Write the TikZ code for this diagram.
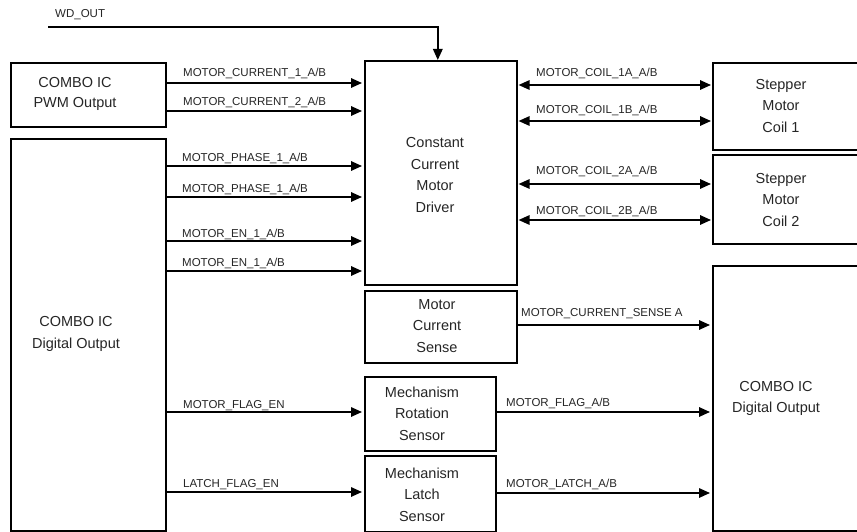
\documentclass[tikz,border=0pt]{standalone}
\usepackage{fontspec}
\setmainfont{Liberation Sans}
\usetikzlibrary{arrows.meta}
\tikzset{
  blk/.style={draw=black, line width=1.6pt, rectangle, inner sep=0pt, anchor=north west},
  btxt/.style={align=center, inner sep=0pt, text=black!85, font=\fontsize{14.5}{21.5}\selectfont},
  lab/.style={anchor=base west, inner sep=0pt, text=black!85, font=\fontsize{11.5}{13}\selectfont},
  arr/.style={line width=1.6pt, -{Triangle[length=11pt,width=9.5pt]}, shorten >=2pt},
  biarr/.style={line width=1.6pt, {Triangle[length=11pt,width=9.5pt]}-{Triangle[length=11pt,width=9.5pt]}, shorten >=1pt, shorten <=1pt}
}
\begin{document}
\begin{tikzpicture}[x=1pt,y=-1pt]
\useasboundingbox (0,0) rectangle (857,532);
\clip (0,0) rectangle (857,532);
\fill[white] (0,0) rectangle (857,532);

% boxes
\node[blk, minimum width=155pt, minimum height=64pt] (pwm) at (10,62) {};
\node[blk, minimum width=155pt, minimum height=392pt] (doutl) at (10,138) {};
\node[blk, minimum width=152pt, minimum height=224pt] (drv) at (364,60) {};
\node[blk, minimum width=152pt, minimum height=72pt] (sense) at (364,290) {};
\node[blk, minimum width=131pt, minimum height=74pt] (rot) at (364,376) {};
\node[blk, minimum width=131pt, minimum height=76pt] (latch) at (364,455) {};
\node[blk, minimum width=150pt, minimum height=87pt] (step1) at (712,62) {};
\node[blk, minimum width=150pt, minimum height=89pt] (step2) at (712,154) {};
\node[blk, minimum width=150pt, minimum height=265pt] (doutr) at (712,265) {};

% box texts
\node[btxt, font=\fontsize{14.5}{20}\selectfont] (pwm-t) at (75,94) {COMBO IC\\PWM Output};
\node[btxt, font=\fontsize{14.5}{22}\selectfont] (doutl-t) at (76,334) {COMBO IC\\Digital Output};
\node[btxt] (drv-t) at (435,175) {Constant\\Current\\Motor\\Driver};
\node[btxt] (sense-t) at (437,326) {Motor\\Current\\Sense};
\node[btxt] (rot-t) at (422,413.5) {Mechanism\\Rotation\\Sensor};
\node[btxt] (latch-t) at (422,494.5) {Mechanism\\Latch\\Sensor};
\node[btxt] (step1-t) at (781,106) {Stepper\\Motor\\Coil 1};
\node[btxt] (step2-t) at (781,200) {Stepper\\Motor\\Coil 2};
\node[btxt, font=\fontsize{14.5}{21}\selectfont] (doutr-t) at (776,398) {COMBO IC\\Digital Output};

% WD_OUT
\coordinate (wd) at (48,27);
\draw[arr, shorten >=0pt] (wd) -| ([xshift=-3pt]drv.north);
\node[lab] (l-wd) at (55,18) {WD\_OUT};

% inputs to driver
\draw[arr] (pwm.east |- 0,83) -- (drv.west |- 0,83);
\node[lab] (l-c1) at (183,77) {MOTOR\_CURRENT\_1\_A/B};
\draw[arr] (pwm.east |- 0,111) -- (drv.west |- 0,111);
\node[lab] (l-c2) at (183,106) {MOTOR\_CURRENT\_2\_A/B};
\draw[arr] (doutl.east |- 0,166) -- (drv.west |- 0,166);
\node[lab] (l-p1) at (182,162) {MOTOR\_PHASE\_1\_A/B};
\draw[arr] (doutl.east |- 0,197) -- (drv.west |- 0,197);
\node[lab] (l-p2) at (182,193) {MOTOR\_PHASE\_1\_A/B};
\draw[arr] (doutl.east |- 0,241) -- (drv.west |- 0,241);
\node[lab] (l-e1) at (182,237) {MOTOR\_EN\_1\_A/B};
\draw[arr] (doutl.east |- 0,271) -- (drv.west |- 0,271);
\node[lab] (l-e2) at (182,266) {MOTOR\_EN\_1\_A/B};

% flag enables
\draw[arr] (doutl.east |- 0,412) -- (rot.west |- 0,412);
\node[lab] (l-fe) at (183,408) {MOTOR\_FLAG\_EN};
\draw[arr] (doutl.east |- 0,492) -- (latch.west |- 0,492);
\node[lab] (l-le) at (183,487) {LATCH\_FLAG\_EN};

% coils
\draw[biarr] (drv.east |- 0,85) -- (step1.west |- 0,85);
\node[lab] (l-1a) at (536,77) {MOTOR\_COIL\_1A\_A/B};
\draw[biarr] (drv.east |- 0,121) -- (step1.west |- 0,121);
\node[lab] (l-1b) at (536,114) {MOTOR\_COIL\_1B\_A/B};
\draw[biarr] (drv.east |- 0,184) -- (step2.west |- 0,184);
\node[lab] (l-2a) at (536,175) {MOTOR\_COIL\_2A\_A/B};
\draw[biarr] (drv.east |- 0,220) -- (step2.west |- 0,220);
\node[lab] (l-2b) at (536,214) {MOTOR\_COIL\_2B\_A/B};

% outputs to right COMBO IC
\draw[arr] (sense.east |- 0,325) -- (doutr.west |- 0,325);
\node[lab] (l-cs) at (521,316) {MOTOR\_CURRENT\_SENSE A};
\draw[arr] (rot.east |- 0,412) -- (doutr.west |- 0,412);
\node[lab] (l-fl) at (506,406) {MOTOR\_FLAG\_A/B};
\draw[arr] (latch.east |- 0,493) -- (doutr.west |- 0,493);
\node[lab] (l-la) at (506,487) {MOTOR\_LATCH\_A/B};
\end{tikzpicture}
\end{document}
